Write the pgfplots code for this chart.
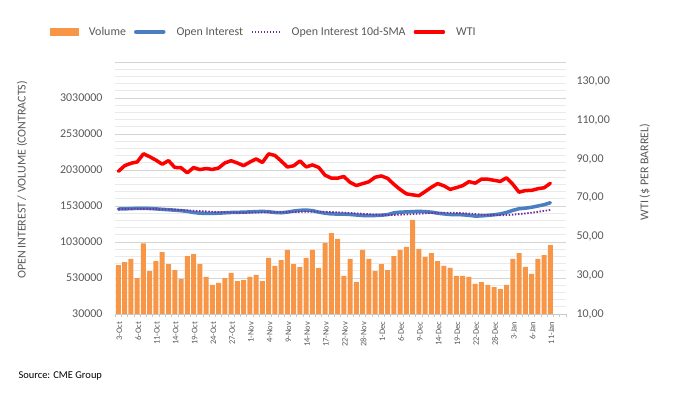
\documentclass[border=0pt]{standalone}
\usepackage{pgfplots}
\pgfplotsset{compat=1.18}
\usepackage{pgfplotstable}
\usepackage{fontspec}
\setmainfont{Carlito}
\definecolor{barorange}{HTML}{F79646}
\definecolor{oiblue}{HTML}{4A7EC0}
\definecolor{smapurple}{HTML}{7030A0}
\definecolor{wtired}{HTML}{FF0000}
\definecolor{labelgray}{HTML}{595959}
\definecolor{gridmajor}{HTML}{D4D4D4}
\definecolor{gridminor}{HTML}{EAEAEA}
\definecolor{axisgray}{HTML}{C8C8C8}

\pgfplotstableread{
idx vol oi sma wti
0 710000 1488000 1488000 83.63
1 752000 1490000 1489000 86.52
2 794000 1494000 1490000 87.76
3 530000 1497000 1491000 88.45
4 1012000 1498000 1490000 92.64
5 627000 1495000 1489000 91.13
6 766000 1490000 1487000 89.35
7 891000 1484000 1485000 87.27
8 724000 1478000 1482000 89.11
9 641000 1472000 1478000 85.61
10 516000 1465000 1474000 85.46
11 835000 1455000 1470000 82.82
12 863000 1440000 1465000 85.55
13 724000 1430000 1460000 84.51
14 544000 1428000 1455000 85.05
15 433000 1428000 1450000 84.58
16 461000 1430000 1446000 85.32
17 530000 1435000 1443000 87.91
18 600000 1440000 1440000 89.08
19 488000 1442000 1438000 87.90
20 502000 1445000 1438000 86.53
21 544000 1448000 1438000 88.37
22 572000 1452000 1440000 90.00
23 488000 1456000 1442000 88.17
24 808000 1450000 1444000 92.61
25 697000 1440000 1444000 91.79
26 780000 1436000 1444000 88.91
27 919000 1445000 1445000 85.83
28 724000 1460000 1447000 86.47
29 683000 1470000 1449000 88.96
30 808000 1474000 1451000 85.87
31 919000 1465000 1452000 86.92
32 669000 1445000 1451000 85.59
33 1016000 1430000 1449000 81.64
34 1155000 1420000 1446000 80.08
35 1072000 1418000 1442000 80.04
36 558000 1418000 1438000 80.95
37 794000 1412000 1433000 77.94
38 474000 1405000 1428000 76.28
39 919000 1398000 1422000 77.24
40 794000 1396000 1416000 78.20
41 627000 1398000 1411000 80.55
42 724000 1402000 1407000 81.22
43 641000 1410000 1405000 79.98
44 835000 1435000 1406000 76.93
45 919000 1445000 1410000 74.25
46 961000 1448000 1413000 72.01
47 1336000 1452000 1418000 71.46
48 933000 1456000 1423000 71.02
49 822000 1452000 1428000 73.17
50 877000 1445000 1433000 75.39
51 766000 1430000 1436000 77.28
52 697000 1420000 1437000 76.11
53 669000 1412000 1437000 74.29
54 558000 1410000 1434000 75.19
55 558000 1408000 1430000 76.23
56 544000 1400000 1425000 78.29
57 447000 1390000 1418000 77.49
58 474000 1392000 1412000 79.56
59 433000 1400000 1407000 79.53
60 405000 1408000 1403000 78.96
61 377000 1420000 1402000 78.40
62 433000 1440000 1404000 80.26
63 794000 1470000 1410000 76.93
64 877000 1492000 1418000 72.84
65 683000 1500000 1426000 73.67
66 586000 1512000 1437000 73.77
67 794000 1530000 1449000 74.63
68 849000 1548000 1462000 75.12
69 988000 1576000 1476000 77.41
}\datatable

\pgfplotsset{
  common/.style={
    at={(115.3bp,81bp)}, anchor=south west,
    scale only axis, width=450.7bp, height=252bp,
    xmin=-0.5, xmax=71.5,
    scaled y ticks=false,
    /pgf/number format/assume math mode=true,
    label style={font=\fontsize{12}{14}\selectfont, text=labelgray},
  },
}

\begin{document}
\begin{tikzpicture}
\useasboundingbox (0,0) rectangle (674bp,395bp);
\begin{axis}[
  common,
  ymin=30000, ymax=3530000,
  axis x line*=bottom, axis y line*=left,
  y axis line style={draw=none},
  x axis line style={draw=axisgray, line width=0.75bp},
  xtick={0,3,...,69},
  xticklabels={3-Oct,6-Oct,11-Oct,14-Oct,19-Oct,24-Oct,27-Oct,1-Nov,4-Nov,9-Nov,14-Nov,17-Nov,22-Nov,28-Nov,1-Dec,6-Dec,9-Dec,14-Dec,19-Dec,22-Dec,28-Dec,3-Jan,6-Jan,11-Jan},
  xticklabel style={rotate=90, anchor=east, font=\fontsize{8.5}{10}\selectfont, text=labelgray, yshift=-1bp},
  yticklabel style={font=\fontsize{12}{14}\selectfont, text=labelgray, xshift=-5bp},
  minor xtick={-0.5,0.5,...,71.5},
  tick align=outside,
  major x tick style={draw=none},
  minor x tick style={draw=axisgray, line width=0.75bp},
  minor tick length=3bp,
  ytick={30000,530000,1030000,1530000,2030000,2530000,3030000,3530000},
  yticklabels={30000,530000,1030000,1530000,2030000,2530000,3030000,},
  minor y tick num=4,
  ymajorgrids, yminorgrids,
  major grid style={draw=gridmajor, line width=0.75bp},
  minor grid style={draw=gridminor, line width=0.75bp},
  major y tick style={draw=none},
  minor y tick style={draw=none},
  ylabel={OPEN INTEREST / VOLUME (CONTRACTS)},
  ylabel style={at={(axis description cs:-0.207,0.532)}, anchor=center},
]
\addplot[ybar, bar width=5bp, fill=barorange, draw=none] table[x=idx, y=vol]{\datatable};
\addplot[oiblue, line width=3.5bp, line join=round, line cap=round, no markers] table[x=idx, y=oi]{\datatable};
\addplot[smapurple, line width=1.8bp, dash pattern=on 1.5bp off 1.6bp, no markers] table[x=idx, y=sma]{\datatable};
\end{axis}
\begin{axis}[
  common,
  ymin=10, ymax=140,
  hide x axis,
  axis y line*=right,
  y axis line style={draw=none},
  ytick={10,30,50,70,90,110,130},
  yticklabels={{10,00},{30,00},{50,00},{70,00},{90,00},{110,00},{130,00}},
  yticklabel style={font=\fontsize{12}{14}\selectfont, text=labelgray, xshift=7bp},
  major y tick style={draw=none},
  ylabel={WTI (\$ PER BARREL)},
  ylabel style={at={(axis description cs:1.175,0.563)}, anchor=center},
  legend columns=4,
  legend style={at={(axis description cs:-0.153,1.119)}, anchor=west, draw=none, fill=none,
    font=\fontsize{12}{14}\selectfont, text=labelgray,
    /tikz/every even column/.append style={column sep=6bp},
    /tikz/every odd column/.append style={column sep=9bp}},
]
\addlegendimage{legend image code/.code={\fill[barorange] (0bp,-3.5bp) rectangle (28bp,3.5bp);}}
\addlegendimage{legend image code/.code={\draw[oiblue, line width=3.5bp, line cap=round] (1bp,0bp) -- (29bp,0bp);}}
\addlegendimage{legend image code/.code={\draw[smapurple, line width=1.5bp, dash pattern=on 1.5bp off 1.5bp] (0bp,0bp) -- (28bp,0bp);}}
\addplot[wtired, line width=3.5bp, line join=round, line cap=round, no markers,
  legend image code/.code={\draw[wtired, line width=3.5bp, line cap=round] (1bp,0bp) -- (29bp,0bp);}] table[x=idx, y=wti]{\datatable};
\legend{Volume, Open Interest, Open Interest 10d-SMA, WTI}
\end{axis}
\node[anchor=west, font=\fontsize{10.5}{12}\selectfont] at (15bp,19bp) {Source: CME Group};
\end{tikzpicture}
\end{document}
